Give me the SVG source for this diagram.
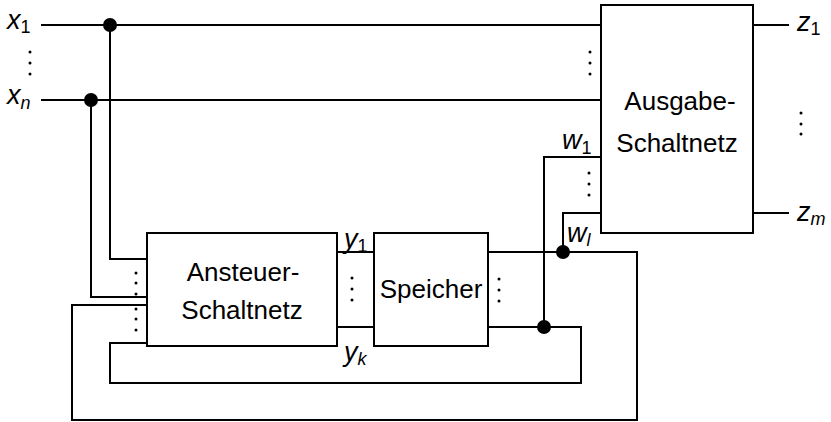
<svg xmlns="http://www.w3.org/2000/svg" width="831" height="422" viewBox="0 0 831 422">
<style>
.w{fill:none;stroke:#000;stroke-width:2;stroke-linejoin:miter;stroke-linecap:square}
.box{fill:#fff;stroke:#000;stroke-width:2}
.t{font-family:"Liberation Sans","DejaVu Sans",sans-serif;font-size:26px;fill:#000;text-anchor:middle}
.m{font-family:"Liberation Sans","DejaVu Sans",sans-serif;font-size:27px;font-style:italic;fill:#000}
.s{font-size:18px;font-style:normal}
.si{font-size:18px;font-style:italic}
.d{fill:#000}
</style>
<rect width="831" height="422" fill="#fff"/>
<g id="connectors">
  <path class="w" d="M42,25 H601"/>
  <path class="w" d="M42,100 H601"/>
  <path class="w" d="M110,25 V259 H147"/>
  <path class="w" d="M91,100 V297 H147"/>
  <path class="w" d="M147,305 H72 V420 H637 V252 H488"/>
  <path class="w" d="M147,343 H110 V383 H581 V327 H488"/>
  <path class="w" d="M337,252 H374"/>
  <path class="w" d="M337,327 H374"/>
  <path class="w" d="M601,157 H544 V327"/>
  <path class="w" d="M601,213 H563 V252"/>
  <path class="w" d="M753,25 H788"/>
  <path class="w" d="M753,213 H788"/>
  <circle class="d" cx="110" cy="25" r="7"/>
  <circle class="d" cx="91" cy="100" r="7"/>
  <circle class="d" cx="563" cy="252" r="7"/>
  <circle class="d" cx="544" cy="327" r="7"/>
</g>
<g id="ansteuer">
  <rect class="box" x="147" y="233" width="190" height="113"/>
  <text class="t" x="243" y="281">Ansteuer-</text>
  <text class="t" x="242" y="319">Schaltnetz</text>
</g>
<g id="speicher">
  <rect class="box" x="374" y="233" width="114" height="113"/>
  <text class="t" x="431" y="298">Speicher</text>
</g>
<g id="ausgabe">
  <rect class="box" x="601" y="5" width="152" height="228"/>
  <text class="t" x="680" y="110">Ausgabe-</text>
  <text class="t" x="677" y="152">Schaltnetz</text>
</g>
<g id="labels">
  <text class="m" x="7" y="29">x<tspan class="s" dy="4">1</tspan></text>
  <text class="m" x="7" y="104">x<tspan class="si" dy="5">n</tspan></text>
  <text class="m" x="344" y="248">y<tspan class="s" dy="4">1</tspan></text>
  <text class="m" x="344" y="361">y<tspan class="si" dy="4">k</tspan></text>
  <text class="m" x="562" y="149">w<tspan class="s" dy="5">1</tspan></text>
  <text class="m" x="567" y="242">w<tspan class="si" dy="4">l</tspan></text>
  <text class="m" x="797" y="31">z<tspan class="s" dy="4">1</tspan></text>
  <text class="m" x="797" y="221">z<tspan class="si" dy="4">m</tspan></text>
</g>
<g id="dots" class="d">
  <circle cx="30" cy="52" r="1.5"/><circle cx="30" cy="63" r="1.5"/><circle cx="30" cy="74" r="1.5"/>
  <circle cx="590" cy="52" r="1.5"/><circle cx="590" cy="63" r="1.5"/><circle cx="590" cy="74" r="1.5"/>
  <circle cx="589" cy="173" r="1.5"/><circle cx="589" cy="184" r="1.5"/><circle cx="589" cy="195" r="1.5"/>
  <circle cx="801" cy="113" r="1.5"/><circle cx="801" cy="124" r="1.5"/><circle cx="801" cy="134" r="1.5"/>
  <circle cx="136" cy="273" r="1.5"/><circle cx="136" cy="283" r="1.5"/><circle cx="136" cy="294" r="1.5"/>
  <circle cx="136" cy="309" r="1.5"/><circle cx="136" cy="319" r="1.5"/><circle cx="136" cy="330" r="1.5"/>
  <circle cx="352" cy="278" r="1.5"/><circle cx="352" cy="289" r="1.5"/><circle cx="352" cy="300" r="1.5"/>
  <circle cx="499" cy="279" r="1.5"/><circle cx="499" cy="290" r="1.5"/><circle cx="499" cy="301" r="1.5"/>
</g>
</svg>
